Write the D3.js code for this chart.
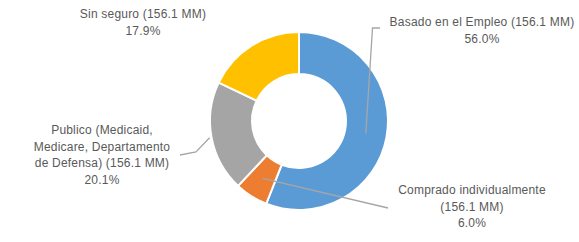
<!DOCTYPE html>
<html>
<head>
<meta charset="utf-8">
<script src="https://cdn.jsdelivr.net/npm/d3@7"></script>
<style>
  html, body { margin: 0; padding: 0; background: #fff; }
  svg { display: block; }
  .label { font-family: "Liberation Sans", Arial, sans-serif; font-size: 12px; letter-spacing: 0.2px; fill: #595959; }
  .leader { fill: none; stroke: #a6a6a6; stroke-width: 1.3; }
</style>
</head>
<body>
<div id="chart"></div>
<script>
// ============== Data ==============
const categories = [
  'Basado en el Empleo',
  'Comprado individualmente',
  'Publico (Medicaid, Medicare, Departamento de Defensa)',
  'Sin seguro'
];
const amounts = ['156.1 MM', '156.1 MM', '156.1 MM', '156.1 MM'];
const shares = [56.0, 6.0, 20.1, 17.9];
const colors = ['#5b9bd5', '#ed7d31', '#a5a5a5', '#ffc000'];

// label lines (text as written in the chart)
const labelLines = [
  ['Basado en el Empleo (156.1 MM)', '56.0%'],
  ['Comprado individualmente', '(156.1 MM)', '6.0%'],
  ['Publico (Medicaid,', 'Medicare, Departamento', 'de Defensa) (156.1 MM)', '20.1%'],
  ['Sin seguro (156.1 MM)', '17.9%']
];

// ============== Layout ==============
const width = 579, height = 242;
const cx = 299, cy = 121;
const outerR = 89, innerR = 47;
const lineH = 16.5;

// label anchor (centre x, first baseline y) and leader elbow points
const labelPos = [
  {x: 482, y: 26, leader: [[372.5, 28], [380, 28]], fromR: 'mid'},
  {x: 472, y: 194, leader: [[388, 208]], fromR: 'mid'},
  {x: 102, y: 134, leader: [[196, 152], [180, 155]], fromR: 'outer'},
  {x: 143, y: 18, leader: null}
];

const svg = d3.select('#chart')
  .append('svg')
  .attr('width', width)
  .attr('height', height);

const g = svg.append('g')
  .attr('transform', `translate(${cx},${cy})`);

// ============== Donut ==============
const pie = d3.pie()
  .value(d => d)
  .sort(null);

const arcs = pie(shares);

const arc = d3.arc()
  .innerRadius(innerR)
  .outerRadius(outerR);

g.selectAll('.slice')
  .data(arcs)
  .enter()
  .append('path')
    .attr('class', 'slice')
    .attr('d', arc)
    .attr('fill', (d, i) => colors[i])
    .attr('stroke', '#fff')
    .attr('stroke-width', 2);

// ============== Leader lines ==============
function pointAt(a, r){
  const ang = (a.startAngle + a.endAngle) / 2;
  return [r * Math.sin(ang), -r * Math.cos(ang)];
}

arcs.forEach((a, i) => {
  const lp = labelPos[i];
  if(!lp.leader) return;
  const r = lp.fromR === 'mid' ? (innerR + outerR) / 2 : outerR + 2;
  const p0 = pointAt(a, r);
  const pts = [[p0[0] + cx, p0[1] + cy]].concat(lp.leader);
  svg.append('path')
    .attr('class', 'leader')
    .attr('d', d3.line()(pts));
});

// ============== Labels ==============
labelLines.forEach((lines, i) => {
  const lp = labelPos[i];
  const t = svg.append('text')
    .attr('class', 'label')
    .attr('text-anchor', 'middle');
  lines.forEach((ln, j) => {
    t.append('tspan')
      .attr('x', lp.x)
      .attr('y', lp.y + j * lineH)
      .text(ln);
  });
});
</script>
</body>
</html>
